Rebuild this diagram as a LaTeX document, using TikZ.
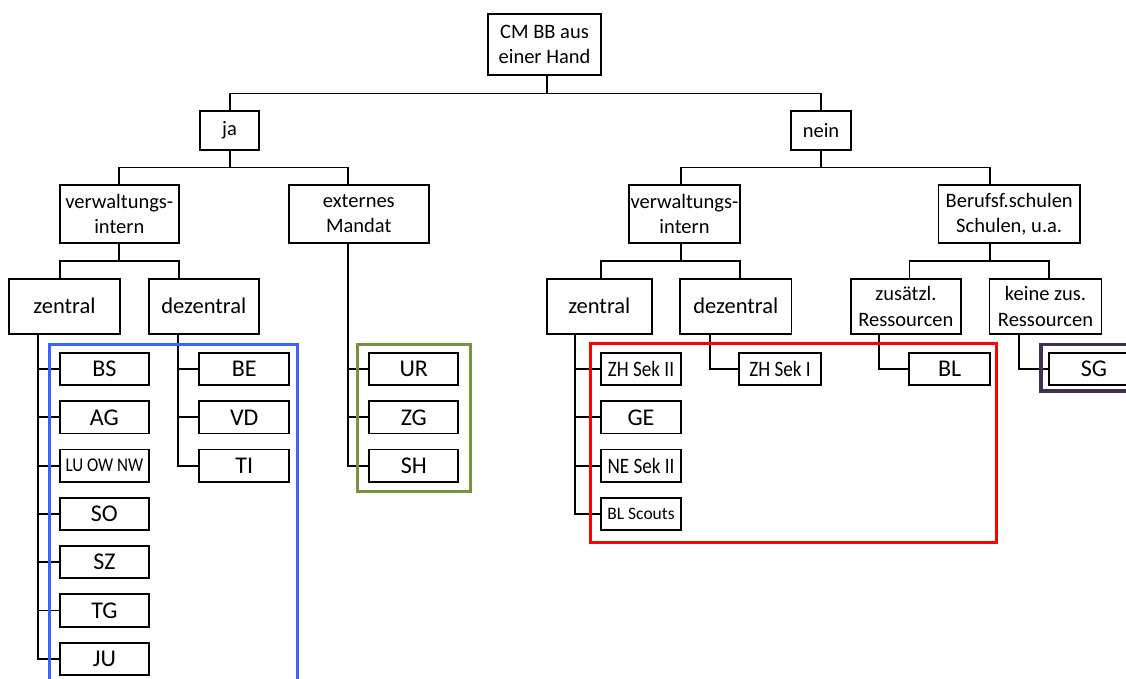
\documentclass[tikz,border=0pt]{standalone}
\usepackage{fontspec}
\setmainfont{Carlito}
\newfontfamily\narrowfont[FakeStretch=0.87]{Carlito}
\newcommand\narrowsize{\narrowfont\fontsize{22}{26}\selectfont}
\newcommand\cantonsize{\narrowfont\fontsize{19.5}{23}\selectfont}
\newcommand\scoutsize{\fontsize{17.5}{21}\selectfont}
\usetikzlibrary{calc}
\definecolor{frameblue}{RGB}{59,100,255}
\definecolor{framegreen}{RGB}{119,147,60}
\definecolor{framered}{RGB}{255,0,0}
\definecolor{framepurple}{RGB}{64,49,82}

\begin{document}
\begin{tikzpicture}[x=1pt, y=-1pt,
  box/.style = {draw, line width=1.8pt, align=center, inner sep=0pt, font=\fontsize{20.5}{25}\selectfont},
  midbox/.style = {box, minimum height=55, font=\fontsize{22.5}{27}\selectfont},
  leaf/.style = {box, minimum width=#1, minimum height=32.3, font=\fontsize{24}{28}\selectfont},
  leaf/.default = 89.3,
  conn/.style = {line width=1.8pt},
  hilite/.style = {line width=3pt, draw=#1}]

% Frame of the picture
\useasboundingbox (0,0) rectangle (1126,679);
\clip (0,0) rectangle (1126,679);

% Root and first level
\node[box, minimum width=113, minimum height=61] (root) at (544.5,44.5) {CM BB aus\\einer Hand};
\node[box, minimum width=59.3, minimum height=39.3] (ja) at (229.6,130.3) {ja};
\node[box, minimum width=60, minimum height=39.3] (nein) at (821,130.3) {nein};

% Second level
\node[box, minimum width=119.3, minimum height=58.3] (verwL) at (119.3,213.9) {verwaltungs-\\intern};
\node[box, minimum width=140.3, minimum height=58.3] (ext) at (358.8,213.9) {externes\\Mandat};
\node[box, minimum width=110.5, minimum height=58.3] (verwR) at (684.5,213.9) {verwaltungs-\\intern};
\node[box, minimum width=141.4, minimum height=58.3] (beruf) at (1009.2,213.9) {Berufsf.schulen\\Schulen, u.a.};

% Third level
\node[midbox, minimum width=111] (zentL) at (64.5,306.2) {zentral};
\node[midbox, minimum width=110.3] (dezL) at (203.8,306.2) {dezentral};
\node[midbox, minimum width=105.3] (zentR) at (599.3,306.2) {zentral};
\node[midbox, minimum width=111.2] (dezR) at (735.8,306.2) {dezentral};
\node[midbox, minimum width=109.7, font=\fontsize{20.5}{26}\selectfont] (zus) at (905.9,306.2) {zusätzl.\\Ressourcen};
\node[midbox, minimum width=111.9, font=\fontsize{20.5}{26}\selectfont] (keine) at (1045.5,306.2) {keine zus.\\Ressourcen};

% Tree lines
\draw[conn] ([xshift=2.5]root.south) -- ++(0,17.7) -| (ja.north);
\draw[conn] ([xshift=2.5]root.south) -- ++(0,17.7) -| (nein.north);
\draw[conn] (ja.south) -- ++(0,16.7) -| (verwL.north);
\draw[conn] (ja.south) -- ++(0,16.7) -| ([xshift=-11]ext.north);
\draw[conn] (nein.south) -- ++(0,16.7) -| ([xshift=-3.2]verwR.north);
\draw[conn] (nein.south) -- ++(0,16.7) -| ([xshift=-19.6]beruf.north);
\draw[conn] (verwL.south) -- ++(0,17) -| ([xshift=-4.5]zentL.north);
\draw[conn] (verwL.south) -- ++(0,17) -| ([xshift=-25.2]dezL.north);
\draw[conn] ([xshift=-3.2]verwR.south) -- ++(0,17) -| ([xshift=1.5]zentR.north);
\draw[conn] ([xshift=-3.2]verwR.south) -- ++(0,17) -| ([xshift=4]dezR.north);
\draw[conn] ([xshift=-19.6]beruf.south) -- ++(0,17) -| ([xshift=3.6]zus.north);
\draw[conn] ([xshift=-19.6]beruf.south) -- ++(0,17) -| ([xshift=3.7]keine.north);

% Leaves, ja side
\foreach \lbl [count=\i from 0] in {BS, AG, {\cantonsize LU OW NW}, SO, SZ, TG, JU} {
  \node[leaf] (zl\i) at (104.4,369+48.3*\i) {\lbl};
  \draw[conn] ([xshift=29.7]zentL.south west) |- (zl\i.west);
}
\foreach \lbl [count=\i from 0] in {BE, VD, TI} {
  \node[leaf=89.7] (dl\i) at (244.2,369+48.3*\i) {\lbl};
  \draw[conn] ([xshift=30]dezL.south west) |- (dl\i.west);
}
\foreach \lbl [count=\i from 0] in {UR, ZG, SH} {
  \node[leaf=89] (el\i) at (413.8,369+48.3*\i) {\lbl};
  \draw[conn] ([xshift=-10.8]ext.south) |- (el\i.west);
}

% Leaves, nein side
\foreach \lbl [count=\i from 0] in {{\narrowsize ZH Sek II}, GE, {\narrowsize NE Sek II}, {\scoutsize BL Scouts}} {
  \node[leaf=80] (zr\i) at (641,369+48.3*\i) {\lbl};
  \draw[conn] ([xshift=29]zentR.south west) |- (zr\i.west);
}
\node[leaf=81.8] (zhsek) at (780.1,369) {\narrowsize ZH Sek I};
\draw[conn] ([xshift=30.7]dezR.south west) |- (zhsek.west);
\node[leaf=80.8] (bl) at (949.6,369) {BL};
\draw[conn] ([xshift=28.9]zus.south west) |- (bl.west);
\node[leaf=90] (sg) at (1094,369) {SG};
\draw[conn] ([xshift=30]keine.south west) |- (sg.west);

% Coloured groups
\draw[hilite=frameblue] (49.3,344) rectangle (297.7,700);
\draw[hilite=framegreen] (357.3,344) rectangle (470.7,491.3);
\draw[hilite=framered] (590,343.5) rectangle (996,542.5);
\draw[hilite=framepurple, line width=3.5pt] (1041,344.3) rectangle (1150,391);

\end{tikzpicture}
\end{document}
